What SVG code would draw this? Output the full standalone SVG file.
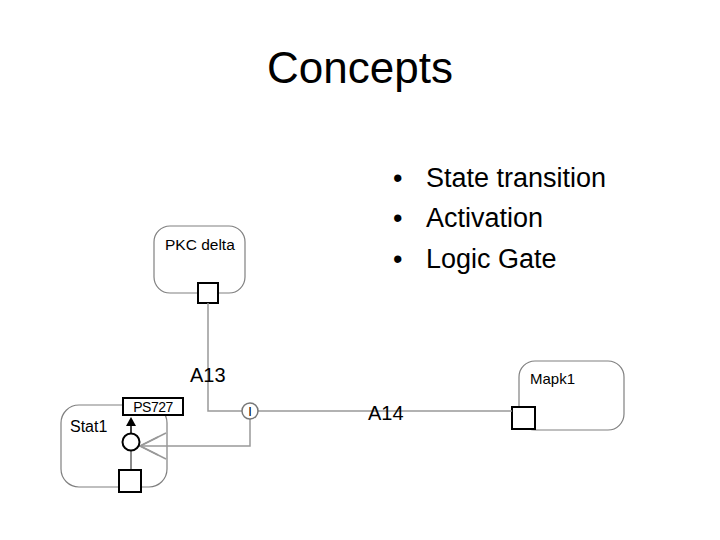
<svg xmlns="http://www.w3.org/2000/svg" width="720" height="540" viewBox="0 0 720 540">
<style>
text{font-family:"Liberation Sans",Arial,sans-serif;fill:#000}
.box{fill:#fff;stroke:#808080;stroke-width:1.2}
.sq{fill:#fff;stroke:#000;stroke-width:2}
.ln{fill:none;stroke:#999;stroke-width:1.5}
</style>
<rect width="720" height="540" fill="#fff"/>
<text x="360" y="83" font-size="44" text-anchor="middle">Concepts</text>
<g font-size="27">
<text x="393" y="187">•</text><text x="426" y="187">State transition</text>
<text x="393" y="227">•</text><text x="426" y="227">Activation</text>
<text x="393" y="268">•</text><text x="426" y="268">Logic Gate</text>
</g>
<g id="pkc">
<rect class="box" x="154" y="226" width="91" height="67" rx="16"/>
<text x="165" y="250" font-size="15.5">PKC delta</text>
<rect class="sq" x="198" y="283" width="20" height="20"/>
</g>
<g id="mapk1">
<rect class="box" x="519" y="361" width="105" height="69" rx="16"/>
<text x="530" y="384" font-size="15">Mapk1</text>
<rect class="sq" x="512" y="407" width="23" height="22"/>
</g>
<g id="stat1">
<rect class="box" x="61" y="405" width="106" height="82" rx="18"/>
<text x="70" y="432" font-size="16">Stat1</text>
<rect class="sq" x="123" y="398" width="60" height="17"/>
<text x="153" y="412" font-size="14" text-anchor="middle" letter-spacing="-0.5">PS727</text>
</g>
<g id="connectors">
<polyline class="ln" points="208,303 208,411 242,411"/>
<line class="ln" x1="258" y1="411" x2="512" y2="411"/>
<polyline class="ln" points="250,419 250,446 140,446"/>
<polyline class="ln" points="166,433 140,446 166,459"/>
<polyline class="ln" points="158,437 140,446 158,455"/>
<line x1="131" y1="450" x2="131" y2="470" stroke="#666" stroke-width="1.5"/>
<line x1="131" y1="434" x2="131" y2="426" stroke="#000" stroke-width="1.5"/>
<polygon points="126,426 136,426 131,417" fill="#000"/>
<text x="190" y="382" font-size="20">A13</text>
<text x="368" y="420" font-size="20">A14</text>
</g>
<g id="stat1-state">
<circle cx="131" cy="442" r="8.5" fill="#fff" stroke="#000" stroke-width="2"/>
<rect class="sq" x="119" y="470" width="22" height="22"/>
</g>
<g id="gate">
<circle cx="250" cy="411" r="8" fill="#fff" stroke="#777" stroke-width="1.5"/>
<text x="250" y="416" font-size="13" text-anchor="middle">I</text>
</g>
</svg>
